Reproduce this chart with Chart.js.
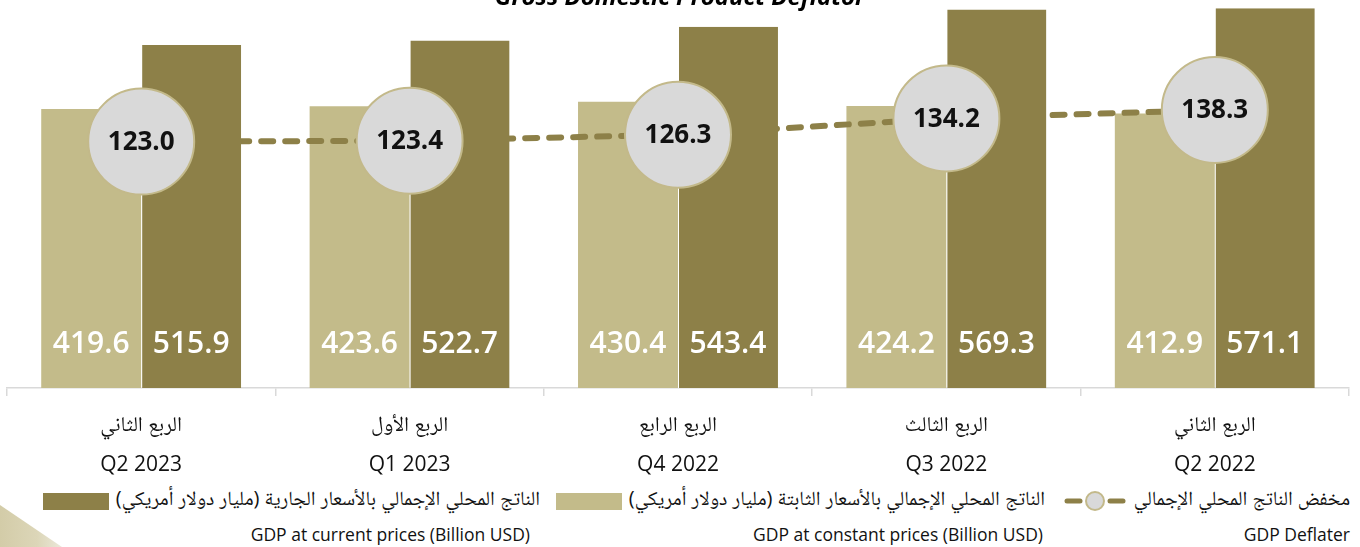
<!DOCTYPE html>
<html lang="ar">
<head>
<meta charset="utf-8">
<title>GDP Deflator</title>
<script src="https://cdn.jsdelivr.net/npm/chart.js@4.4.1/dist/chart.umd.min.js"></script>
<style>
  html, body { margin: 0; padding: 0; background: #fff; }
  body { width: 1360px; height: 547px; position: relative; overflow: hidden;
         font-family: 'Open Sans', 'Noto Naskh Arabic', 'Noto Sans Arabic', 'DejaVu Sans', sans-serif; }
  #wrap { position: absolute; left: 0; top: 0; width: 1360px; height: 480px; }
  .title { position: absolute; left: 0; width: 1360px; top: -17px; text-align: center;
           font-size: 24px; font-weight: 700; font-style: italic; line-height: 26px; color: #000; }
  .deco { position: absolute; left: 0; top: 505px; width: 62px; height: 42px;
          background: linear-gradient(90deg, #d3cca8 0%, #dcd6b8 60%, #ebe8da 100%);
          clip-path: polygon(0 0, 100% 100%, 0 100%); }
  .lg { position: absolute; display: flex; direction: rtl; align-items: center; white-space: nowrap; }
  .lg .txt { font-size: 20px; color: #111; }
  .en { position: absolute; font-size: 17.5px; color: #111; white-space: nowrap; }
  .box { width: 66px; height: 17px; margin-right: 7px; }
</style>
</head>
<body>
<div class="deco"></div>
<div id="wrap"><canvas id="gdp" width="1360" height="480"></canvas></div>
<div class="title">Gross Domestic Product Deflator</div>

<div class="lg" style="right:10px; top:484px;">
  <span class="txt">مخفض الناتج المحلي الإجمالي</span>
  <svg width="62" height="22" style="margin-right:8px">
    <line x1="3" y1="11" x2="16" y2="11" stroke="#8d8048" stroke-width="5" stroke-linecap="round"/>
    <line x1="46" y1="11" x2="59" y2="11" stroke="#8d8048" stroke-width="5" stroke-linecap="round"/>
    <circle cx="31" cy="11" r="9" fill="#d9d9d9" stroke="#c3b98a" stroke-width="2"/>
  </svg>
</div>
<div class="lg" style="right:315px; top:484px;">
  <span class="txt">الناتج المحلي الإجمالي بالأسعار الثابتة (مليار دولار أمريكي)</span>
  <div class="box" style="background:#c3bb8a"></div>
</div>
<div class="lg" style="right:820px; top:484px;">
  <span class="txt">الناتج المحلي الإجمالي بالأسعار الجارية (مليار دولار أمريكي)</span>
  <div class="box" style="background:#8d8048"></div>
</div>
<div class="en" style="right:10px; top:522px;">GDP Deflater</div>
<div class="en" style="right:317px; top:522px;">GDP at constant prices (Billion USD)</div>
<div class="en" style="right:830px; top:522px;">GDP at current prices (Billion USD)</div>

<script>
const categoriesAr = ['الربع الثاني', 'الربع الأول', 'الربع الرابع', 'الربع الثالث', 'الربع الثاني'];
const categoriesEn = ['Q2 2023', 'Q1 2023', 'Q4 2022', 'Q3 2022', 'Q2 2022'];
const constantPrices = [419.6, 423.6, 430.4, 424.2, 412.9];
const currentPrices = [515.9, 522.7, 543.4, 569.3, 571.1];
const deflator = [123.0, 123.4, 126.3, 134.2, 138.3];

const LIGHT = '#c3bb8a';
const DARK = '#8d8048';

// light bars -> dashed line -> dark bars -> circles
// (order decides bar position in the group, so the layering is done here)
const layerOrder = {
  id: 'layerOrder',
  beforeDatasetDraw(chart, args) {
    if (args.index === 3) {
      [0, 1, 2].forEach(i => chart.getDatasetMeta(i).controller.draw());
      return true;
    }
    return false;
  }
};

// values written on the bars and in the circles
const valueLabels = {
  id: 'valueLabels',
  afterDatasetsDraw(chart) {
    const ctx = chart.ctx;
    const bottom = chart.chartArea.bottom;
    ctx.save();
    ctx.textAlign = 'center';
    ctx.textBaseline = 'middle';
    [0, 2].forEach(di => {
      const meta = chart.getDatasetMeta(di);
      ctx.font = '600 30px "Open Sans", sans-serif';
      ctx.fillStyle = '#fff';
      meta.data.forEach((bar, i) => {
        ctx.fillText(chart.data.datasets[di].data[i].toFixed(1), bar.x, bottom - 44);
      });
    });
    const pts = chart.getDatasetMeta(3);
    ctx.font = '700 26px "Open Sans", sans-serif';
    ctx.fillStyle = '#111';
    pts.data.forEach((p, i) => {
      ctx.fillText(deflator[i].toFixed(1), p.x, p.y + 1);
    });
    ctx.restore();
  }
};

new Chart(document.getElementById('gdp').getContext('2d'), {
  data: {
    labels: categoriesAr.map((a, i) => [a, categoriesEn[i]]),
    datasets: [
      {
        type: 'bar',
        label: 'GDP at constant prices (Billion USD)',
        data: constantPrices,
        backgroundColor: LIGHT,
        categoryPercentage: 0.745,
        barPercentage: 1,
        order: 1
      },
      {
        type: 'line',
        label: 'deflator line',
        data: deflator,
        yAxisID: 'y2',
        borderColor: DARK,
        borderWidth: 6,
        borderDash: [12, 12],
        borderCapStyle: 'round',
        pointRadius: 0,
        tension: 0,
        order: 2
      },
      {
        type: 'bar',
        label: 'GDP at current prices (Billion USD)',
        data: currentPrices,
        backgroundColor: DARK,
        borderColor: 'rgba(255,255,255,0.85)',
        borderWidth: { left: 1, right: 0, top: 0, bottom: 0 },
        borderSkipped: false,
        categoryPercentage: 0.745,
        barPercentage: 1,
        order: 3
      },
      {
        type: 'line',
        label: 'GDP Deflater',
        data: deflator,
        yAxisID: 'y2',
        showLine: false,
        pointRadius: 53,
        pointHoverRadius: 53,
        pointBackgroundColor: '#d9d9d9',
        pointBorderColor: '#c3b98a',
        pointBorderWidth: 2,
        order: 0
      }
    ]
  },
  options: {
    responsive: false,
    animation: false,
    layout: { autoPadding: false, padding: { left: 7, right: 11, top: 0, bottom: 0 } },
    plugins: { legend: { display: false }, tooltip: { enabled: false } },
    scales: {
      x: {
        grid: { offset: true, drawOnChartArea: false, color: '#d9d9d9', tickLength: 8, lineWidth: 1.5 },
        border: { color: '#d9d9d9', width: 1.5 },
        ticks: {
          color: '#111',
          padding: 9,
          font: { family: "'Open Sans', 'Noto Naskh Arabic', 'Noto Sans Arabic', 'DejaVu Sans', sans-serif", size: 21, lineHeight: 1.9 }
        },
        afterFit(scale) { scale.height = 92; }
      },
      y: { display: false, min: 0, max: 583.6 },
      y2: { display: false, min: 4, max: 191.4 }
    }
  },
  plugins: [layerOrder, valueLabels]
});
</script>
</body>
</html>
